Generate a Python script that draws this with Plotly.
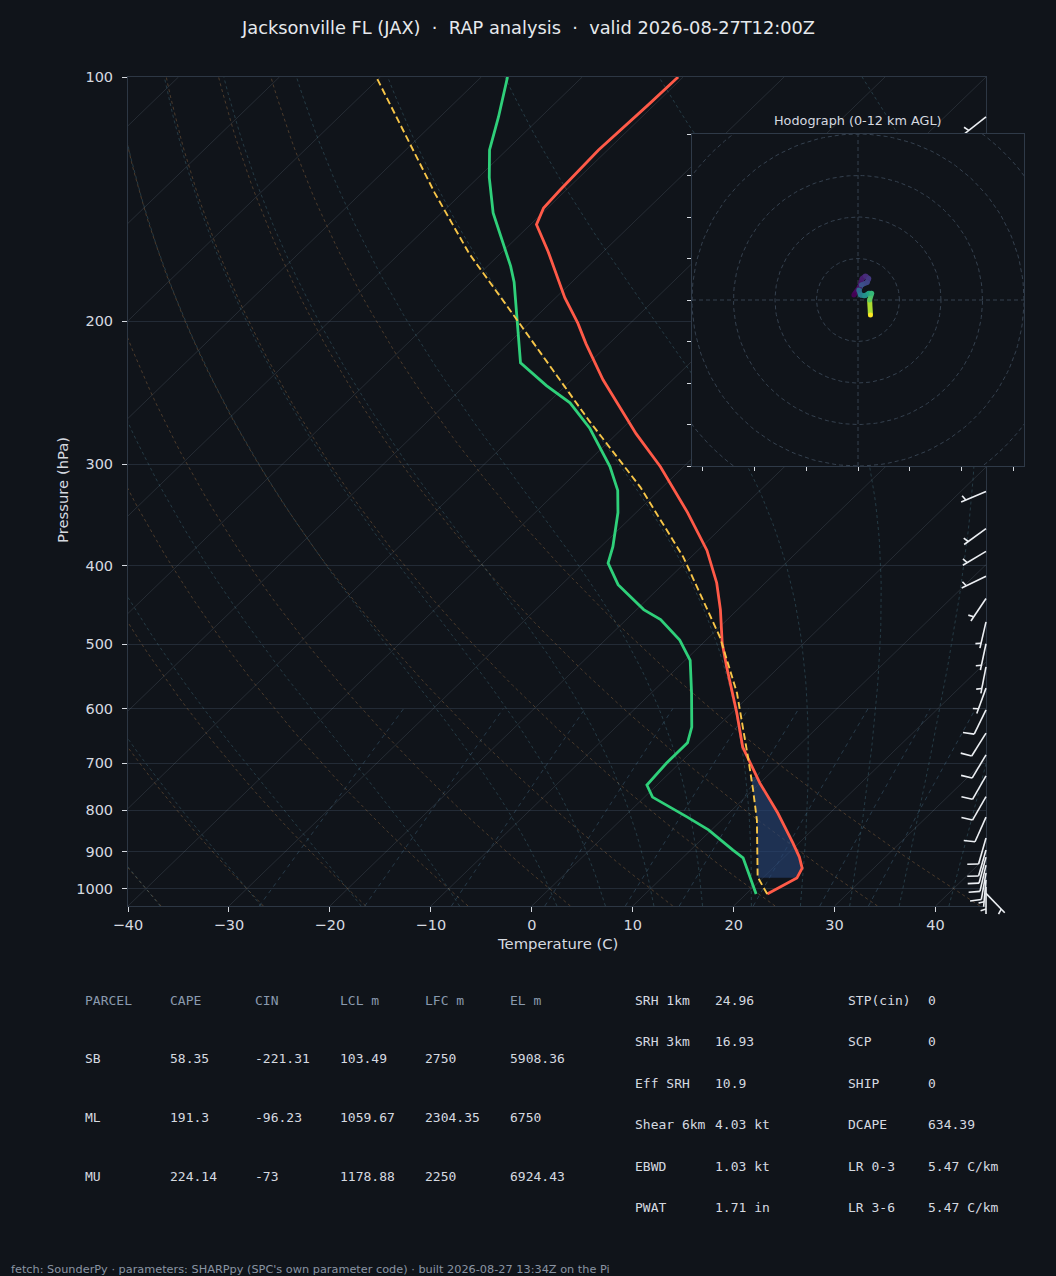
import numpy as np
import plotly.graph_objects as go
from plotly.colors import sample_colorscale

FIG_W, FIG_H = 1056, 1276
BG = '#10141a'
FG = '#d6dae0'
MUTED = '#8a9aae'

# skew-T panel position (figure pixels) and limits
X0_PX, X1_PX = 128, 986
Y0_PX, Y1_PX = 77, 906
T_MIN, T_MAX = -40, 45
P_BOT, P_TOP = 1050, 100

# hodograph inset position (figure pixels)
HX0_PX, HX1_PX = 692, 1024
HY0_PX, HY1_PX = 134, 466
HODO_LIM = 40

# environment temperature profile
env_p = [1015, 970, 943, 914, 878, 806, 741, 700, 669, 607, 533, 498, 453, 420,
         383, 344, 302, 275, 252, 236, 213, 201, 187, 164, 152, 145, 138, 123, 108, 100]
env_t = [22.1, 23.4, 22.9, 21.5, 19.4, 14.8, 10.0, 7.0, 4.6, 0.5, -5.2, -8.1, -11.7, -14.8,
         -19.1, -24.9, -32.3, -38.1, -43.1, -46.9, -52.3, -55.2, -59.1, -65.5, -69.4, -70.4,
         -70.6, -70.9, -70.6, -70.5]

# dewpoint profile
dew_p = [1015, 948, 916, 896, 846, 816, 771, 745, 700, 661, 632, 574, 523, 494, 466, 453,
         422, 397, 379, 344, 323, 302, 271, 252, 240, 225, 201, 179, 171, 160, 147, 133,
         123, 112, 100]
dew_t = [21.0, 17.7, 16.0, 14.2, 9.7, 6.3, 0.8, -1.0, -1.3, -1.3, -2.5, -6.0, -9.5, -12.6,
         -16.6, -19.3, -24.4, -27.6, -28.8, -31.8, -34.1, -37.3, -43.2, -47.8, -51.9, -56.8,
         -61.2, -65.7, -67.7, -70.9, -74.9, -78.9, -81.7, -84.2, -87.4]

# surface-based parcel path
parcel_p = [1015, 967, 823, 755, 694, 574, 490, 390, 320, 265, 200, 165, 139, 100]
parcel_t = [22.1, 19.4, 13.5, 10.0, 6.5, -1.5, -8.9, -20.8, -32.2, -44.1, -61.3, -73.1,
            -82.7, -100.4]

# negative-area shading levels
cin_p = [969, 945, 915, 885, 855, 825, 795, 765, 740, 728]

# wind barbs (direction from, knots)
barb_p = [112, 324, 360, 384, 412, 439, 469, 499, 533, 566, 602, 643, 684, 726, 770, 816,
          866, 896, 914, 935, 956, 975, 995, 1013]
barb_dir = [232, 247, 234, 239, 244, 214, 193, 192, 191, 200, 206, 212, 211, 210, 210, 204,
            196, 196, 195, 193, 190, 185, 180, 136]
barb_kt = [5, 5, 5, 5, 5, 5, 5, 5, 5, 5, 10, 10, 10, 10, 10, 10, 10, 10, 10, 10, 10, 5, 5, 5]

# hodograph trace 0-12 km
hodo_u = [-1.0, 0.4, 1.0, 1.8, 2.6, 2.2, 0.8, 0.2, 0.6, 1.6, 2.6, 3.3, 2.8, 3.0]
hodo_v = [1.2, 3.2, 5.2, 5.8, 5.2, 4.2, 3.6, 2.4, 1.2, 1.0, 1.6, 1.6, 0.0, -3.6]
hodo_h = [0, 0.5, 1, 1.5, 2, 2.5, 3, 4, 5, 6, 7, 8, 9, 12]
hodo_rings = [10, 20, 30, 40, 50, 60]

# background line families
isotherms = list(range(-130, 50, 10))
dry_t0 = list(range(-40, 46, 10))
moist_t0 = [-40, -30, -20, -10, 0, 5, 10, 15, 20, 25, 30, 35, 40, 45]
mix_gkg = [0.4, 1, 2, 4, 7, 10, 16, 24, 32]

# parcel table
parcel_names = ['SB', 'ML', 'MU']
cape = [58.35, 191.3, 224.14]
cin = [-221.31, -96.23, -73]
lcl_m = [103.49, 1059.67, 1178.88]
lfc_m = [2750, 2304.35, 2250]
el_m = [5908.36, 6750, 6924.43]
table_head = ['PARCEL', 'CAPE', 'CIN', 'LCL m', 'LFC m', 'EL m']

idx_names_a = ['SRH 1km', 'SRH 3km', 'Eff SRH', 'Shear 6km', 'EBWD', 'PWAT']
idx_vals_a = ['24.96', '16.93', '10.9', '4.03 kt', '1.03 kt', '1.71 in']
idx_names_b = ['STP(cin)', 'SCP', 'SHIP', 'DCAPE', 'LR 0-3', 'LR 3-6']
idx_vals_b = ['0', '0', '0', '634.39', '5.47 C/km', '5.47 C/km']


def skew(t, p):
    # isotherms lean 45 deg: shift by the log-p height fraction times the x span
    frac = np.log(P_BOT / np.asarray(p, float)) / np.log(P_BOT / P_TOP)
    return np.asarray(t, float) + frac * (T_MAX - T_MIN)


RD, CP, LV, EPS = 287.04, 1005.7, 2.501e6, 0.622


def dtdp(p, tk):
    es = 6.112 * np.exp(17.67 * (tk - 273.15) / (tk - 29.65))
    rs = EPS * es / (p - es)
    return (RD * tk + LV * rs) / (p * (CP + LV * LV * rs * EPS / (RD * tk * tk)))


def moist_path(tk, p_from, p_to, n=90):
    ps = np.geomspace(p_from, p_to, n)
    out = [tk]
    for a, b in zip(ps[:-1], ps[1:]):
        h = b - a
        k1 = dtdp(a, tk)
        k2 = dtdp(a + h / 2, tk + h * k1 / 2)
        k3 = dtdp(a + h / 2, tk + h * k2 / 2)
        k4 = dtdp(b, tk + h * k3)
        tk = tk + h * (k1 + 2 * k2 + 2 * k3 + k4) / 6
        out.append(tk)
    return ps, np.array(out)


def joined(lines):
    xs, ys = [], []
    for x, y in lines:
        xs += list(x) + [None]
        ys += list(y) + [None]
    return xs, ys


fig = go.Figure()
p_all = np.geomspace(P_BOT, P_TOP, 80)

# isotherms
iso = [(skew([t, t], [P_BOT, P_TOP]), [P_BOT, P_TOP]) for t in isotherms]
x, y = joined(iso)
fig.add_trace(go.Scatter(x=x, y=y, mode='lines', hoverinfo='skip',
                         line=dict(color='rgba(150,165,185,0.17)', width=1)))

# dry adiabats (reference 1000 hPa)
dry = []
for t0 in dry_t0:
    tk = (t0 + 273.15) * (p_all / 1000.0) ** (RD / CP) - 273.15
    dry.append((skew(tk, p_all), p_all))
x, y = joined(dry)
fig.add_trace(go.Scatter(x=x, y=y, mode='lines', hoverinfo='skip',
                         line=dict(color='rgba(170,120,70,0.38)', width=1, dash='3px,3px')))

# moist adiabats (reference 1000 hPa)
moist = []
for t0 in moist_t0:
    pu, tu = moist_path(t0 + 273.15, 1000.0, P_TOP)
    pd, td = moist_path(t0 + 273.15, 1000.0, P_BOT, n=10)
    pp = np.concatenate([pd[::-1], pu[1:]])
    tt = np.concatenate([td[::-1], tu[1:]]) - 273.15
    moist.append((skew(tt, pp), pp))
x, y = joined(moist)
fig.add_trace(go.Scatter(x=x, y=y, mode='lines', hoverinfo='skip',
                         line=dict(color='rgba(80,140,160,0.32)', width=1, dash='3px,3px')))

# mixing ratio lines up to 600 hPa
p_mix = np.geomspace(P_BOT, 600, 20)
mix = []
for w in mix_gkg:
    e = (w / 1000.0) * p_mix / (EPS + w / 1000.0)
    lnr = np.log(e / 6.112)
    tdw = 243.5 * lnr / (17.67 - lnr)
    mix.append((skew(tdw, p_mix), p_mix))
x, y = joined(mix)
fig.add_trace(go.Scatter(x=x, y=y, mode='lines', hoverinfo='skip',
                         line=dict(color='rgba(80,130,160,0.35)', width=1, dash='4px,4px')))

# shaded negative area between parcel and environment
lp = np.log(cin_p)
env_i = np.interp(-lp, -np.log(env_p), env_t)
par_i = np.interp(-lp, -np.log(parcel_p), parcel_t)
fig.add_trace(go.Scatter(x=np.concatenate([skew(par_i, cin_p), skew(env_i, cin_p)[::-1]]),
                         y=cin_p + cin_p[::-1], mode='lines', fill='toself',
                         fillcolor='rgba(38,68,118,0.62)', line=dict(width=0),
                         hoverinfo='skip'))

fig.add_trace(go.Scatter(x=skew(dew_t, dew_p), y=dew_p, mode='lines', name='Td',
                         line=dict(color='#2fd07a', width=2.8)))
fig.add_trace(go.Scatter(x=skew(env_t, env_p), y=env_p, mode='lines', name='T',
                         line=dict(color='#ff5a48', width=2.8)))
fig.add_trace(go.Scatter(x=skew(parcel_t, parcel_p), y=parcel_p, mode='lines', name='parcel',
                         line=dict(color='#f7c548', width=1.9, dash='7px,3.5px')))

# wind barbs on a full-figure overlay axis with the same scale as the skew-T
px_per_c = (X1_PX - X0_PX) / (T_MAX - T_MIN)
px_per_dec = (Y1_PX - Y0_PX) / (np.log10(P_BOT) - np.log10(P_TOP))
ov_x = [T_MIN - X0_PX / px_per_c, T_MIN + (FIG_W - X0_PX) / px_per_c]
ov_y = [np.log10(P_TOP) + (FIG_H - Y0_PX) / px_per_dec, np.log10(P_TOP) - Y0_PX / px_per_dec]

BL = 27.0
BH, BW, BS = 0.4 * BL, 0.25 * BL, 0.125 * BL
bx, by = [], []
for p, d, s in zip(barb_p, barb_dir, barb_kt):
    th = np.radians(d)
    sx, sy = np.sin(th), -np.cos(th)
    nx, ny = -sy, sx
    tipx, tipy = BL * sx, BL * sy
    segs = [((0, 0), (tipx, tipy))]
    full = int(s // 10)
    half = (s % 10) >= 5
    off = 0.0
    for i in range(full):
        b0 = (tipx - off * sx, tipy - off * sy)
        segs.append((b0, (b0[0] + BH * nx + BW / 2 * sx, b0[1] + BH * ny + BW / 2 * sy)))
        off += BS + BW / 2
    if half:
        if off == 0:
            off = 1.5 * BS
        b0 = (tipx - off * sx, tipy - off * sy)
        segs.append((b0, (b0[0] + BH / 2 * nx + BW / 4 * sx, b0[1] + BH / 2 * ny + BW / 4 * sy)))
    for a, b in segs:
        for dx, dy in (a, b):
            bx.append(T_MAX + dx / px_per_c)
            by.append(10 ** (np.log10(p) + dy / px_per_dec))
        bx.append(None)
        by.append(None)
fig.add_trace(go.Scatter(x=bx, y=by, xaxis='x2', yaxis='y2', mode='lines', hoverinfo='skip',
                         line=dict(color='#eceff3', width=1.6)))

# hodograph inset
fig.add_trace(go.Scatter(x=[-HODO_LIM, HODO_LIM, HODO_LIM, -HODO_LIM, -HODO_LIM],
                         y=[-HODO_LIM, -HODO_LIM, HODO_LIM, HODO_LIM, -HODO_LIM],
                         xaxis='x3', yaxis='y3', mode='lines', fill='toself', fillcolor=BG,
                         line=dict(width=0), hoverinfo='skip'))
ang = np.linspace(0, 2 * np.pi, 181)
rings = [(r * np.cos(ang), r * np.sin(ang)) for r in hodo_rings]
rings += [([-HODO_LIM, HODO_LIM], [0, 0]), ([0, 0], [-HODO_LIM, HODO_LIM])]
x, y = joined(rings)
fig.add_trace(go.Scatter(x=x, y=y, xaxis='x3', yaxis='y3', mode='lines', hoverinfo='skip',
                         line=dict(color='#35414f', width=1, dash='4px,3px')))
for i in range(len(hodo_u) - 1):
    c = sample_colorscale('Viridis', [(hodo_h[i] + hodo_h[i + 1]) / 2 / 12])[0]
    fig.add_trace(go.Scatter(x=hodo_u[i:i + 2], y=hodo_v[i:i + 2], xaxis='x3', yaxis='y3',
                             mode='lines', hoverinfo='skip', line=dict(color=c, width=5)))
fig.add_trace(go.Scatter(x=hodo_u, y=hodo_v, xaxis='x3', yaxis='y3', mode='markers',
                         hoverinfo='skip',
                         marker=dict(size=5, color=hodo_h, colorscale='Viridis',
                                     cmin=0, cmax=12, line=dict(width=0))))

tick_font = dict(family='DejaVu Sans', size=14.5, color=FG)
fig.update_layout(
    width=FIG_W, height=FIG_H, showlegend=False,
    margin=dict(l=0, r=0, t=0, b=0, autoexpand=False),
    paper_bgcolor=BG, plot_bgcolor='rgba(0,0,0,0)',
    font=dict(family='DejaVu Sans', color=FG),
    xaxis=dict(domain=[X0_PX / FIG_W, X1_PX / FIG_W], range=[T_MIN, T_MAX], automargin=False,
               tickvals=list(range(-40, 41, 10)), ticks='outside', ticklen=5,
               tickcolor=FG, tickfont=tick_font, showgrid=False, zeroline=False,
               ticklabelstandoff=1,
               showline=True, linecolor='#2d3744', linewidth=1, mirror=True),
    yaxis=dict(domain=[1 - Y1_PX / FIG_H, 1 - Y0_PX / FIG_H], type='log', automargin=False,
               range=[np.log10(P_BOT), np.log10(P_TOP)],
               tickvals=[100, 200, 300, 400, 500, 600, 700, 800, 900, 1000],
               ticks='outside', ticklen=5, tickcolor=FG, tickfont=tick_font,
               ticklabelstandoff=6,
               showgrid=True, gridcolor='#232b36', gridwidth=1, zeroline=False,
               showline=True, linecolor='#2d3744', linewidth=1, mirror=True),
    xaxis2=dict(domain=[0, 1], range=ov_x, visible=False, anchor='y2', automargin=False),
    yaxis2=dict(domain=[0, 1], type='log', range=ov_y, visible=False, anchor='x2',
                automargin=False),
    xaxis3=dict(domain=[HX0_PX / FIG_W, HX1_PX / FIG_W], range=[-HODO_LIM, HODO_LIM],
                anchor='y3', tickvals=list(np.arange(-37.5, 38, 12.5)), ticks='outside',
                ticklen=4, tickcolor=FG, showticklabels=False, showgrid=False,
                zeroline=False, showline=True, linecolor='#2f3a48', mirror=True,
                automargin=False),
    yaxis3=dict(domain=[1 - HY1_PX / FIG_H, 1 - HY0_PX / FIG_H], range=[-HODO_LIM, HODO_LIM],
                anchor='x3', tickvals=list(range(-40, 41, 10)), ticks='outside',
                ticklen=4, tickcolor=FG, showticklabels=False, showgrid=False,
                zeroline=False, showline=True, linecolor='#2f3a48', mirror=True,
                automargin=False),
)

ann = []


def text(s, xpx, ypx, size=13, color=FG, family='DejaVu Sans', anchor='left', angle=0):
    ann.append(dict(text=s, x=xpx / FIG_W, y=1 - ypx / FIG_H, xref='paper', yref='paper',
                    xanchor=anchor, yanchor='middle', showarrow=False, textangle=angle,
                    borderpad=0, font=dict(family=family, size=size, color=color)))


sp = ' \u00a0\u00b7\u00a0 '
text('Jacksonville FL (JAX)' + sp + 'RAP analysis' + sp + 'valid 2026-08-27T12:00Z',
     528, 27, size=17.8, color='#e6e9ed', anchor='center')
text('Temperature (C)', 557, 943, size=14.8, anchor='center')
text('Pressure (hPa)', 63, 490, size=14.8, anchor='center', angle=-90)
text('Hodograph (0-12 km AGL)', 858, 120, size=12.8, anchor='center')

MONO = 'DejaVu Sans Mono'
col_x = [84, 169, 254, 339, 424, 509]
row_y = [1000, 1058, 1117, 1176]
for cx, h in zip(col_x, table_head):
    text(h, cx, row_y[0], family=MONO, color=MUTED)
for r, name in enumerate(parcel_names):
    vals = [name] + [f'{v:g}' for v in (cape[r], cin[r], lcl_m[r], lfc_m[r], el_m[r])]
    for cx, v in zip(col_x, vals):
        text(v, cx, row_y[r + 1], family=MONO)

idx_y = [1000, 1041, 1083, 1124, 1166, 1207]
for yy, a, b, c, d in zip(idx_y, idx_names_a, idx_vals_a, idx_names_b, idx_vals_b):
    text(a, 634, yy, family=MONO)
    text(b, 714, yy, family=MONO)
    text(c, 847, yy, family=MONO)
    text(d, 927, yy, family=MONO)

text("fetch: SounderPy \u00b7 parameters: SHARPpy (SPC's own parameter code) \u00b7 "
     "built 2026-08-27 13:34Z on the Pi", 10, 1269, size=11.3, color='#8a94a3')

fig.update_layout(annotations=ann)
page_fix = ("document.body.style.margin='0';"
            "document.body.style.overflow='hidden';"
            "document.documentElement.style.overflow='hidden';"
            "document.body.style.background='%s';" % BG)
fig.write_html('out.html', config={'displayModeBar': False}, post_script=page_fix)
